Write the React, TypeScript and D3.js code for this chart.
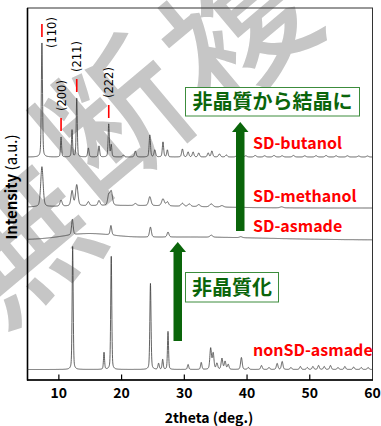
import React from 'react';
import * as d3 from 'd3';

const W = 381;
const H = 426;

// x-axis
const xDomain = [5, 60];
const xTickValues = [10, 20, 30, 40, 50, 60];
const xInnerTicks = [10, 20, 30, 40, 50];

// vertical offsets of each pattern (a.u.)
const seriesNames = ['nonSD-asmade', 'SD-asmade', 'SD-methanol', 'SD-butanol'];
const seriesOffsets = [10.5, 140, 172, 223];

// SD-butanol peaks
const butanolPos = [7.3, 10.35, 12.1, 12.85, 14.7, 16.4, 17.95, 18.35, 20.3, 22.2, 24.5, 25.3, 26.6, 27.3, 29.7, 30.6, 31.4, 32.3, 33.8, 34.4, 35.6, 36.7, 38.4, 39.8, 41.3, 42.8, 44.3, 45.6, 47.4, 49.2, 51.0, 52.6, 54.2, 56.0, 57.8, 59.2];
const butanolHeight = [114, 20, 27, 59, 9, 11, 33, 12, 2, 6, 22, 7, 15, 7, 8, 5, 5, 4, 4, 6, 3, 2, 1.5, 1.2, 1.5, 1.2, 1.5, 1.2, 1.5, 1.2, 1.3, 1.5, 1.2, 1.2, 1.0, 1.0];
const butanolFwhm = [0.22, 0.2, 0.2, 0.2, 0.25, 0.25, 0.22, 0.22, 0.3, 0.3, 0.25, 0.3, 0.25, 0.25, 0.3, 0.3, 0.3, 0.3, 0.3, 0.3, 0.35, 0.35, 0.4, 0.4, 0.4, 0.4, 0.4, 0.4, 0.4, 0.4, 0.4, 0.4, 0.4, 0.4, 0.4, 0.4];

// SD-methanol peaks
const methanolPos = [7.3, 10.35, 12.1, 12.85, 14.7, 16.4, 17.95, 18.35, 22.2, 24.5, 26.6, 27.3, 29.7, 30.8, 32.3, 34.3, 36.0, 39.0, 45.5];
const methanolHeight = [40, 6, 15, 21, 4, 5, 10, 14, 2, 9, 7, 4, 3, 2.5, 2, 3, 1.5, 1, 1];
const methanolFwhm = [0.45, 0.4, 0.4, 0.45, 0.4, 0.4, 0.4, 0.45, 0.5, 0.45, 0.5, 0.45, 0.5, 0.5, 0.5, 0.6, 0.6, 0.6, 0.6];
const methanolHaloPos = [20];
const methanolHaloHeight = [2.5];
const methanolHaloFwhm = [26];

// SD-asmade peaks
const asmadePos = [12.15, 18.3, 24.6, 27.4, 34.3, 39.0];
const asmadeHeight = [15.5, 9.5, 10, 5, 2, 1];
const asmadeFwhm = [0.3, 0.3, 0.35, 0.35, 0.5, 0.5];
const asmadeHaloPos = [14.5, 30];
const asmadeHaloHeight = [5, 3];
const asmadeHaloFwhm = [9, 30];

// nonSD-asmade peaks
const nonSDPos = [12.2, 17.2, 18.35, 24.6, 25.9, 26.55, 27.4, 30.6, 32.7, 34.2, 34.6, 35.2, 36.0, 36.5, 37.0, 39.1, 40.2, 42.3, 43.5, 44.8, 45.6, 47.0, 48.5, 49.6, 50.5, 51.4, 52.3, 53.3, 54.5, 55.6, 57.0, 58.2, 59.3];
const nonSDHeight = [123, 17, 114, 86, 6, 10, 38, 5, 7, 21, 16, 6, 11, 8, 5, 12, 2, 4, 2, 6, 8, 2, 3, 2, 3, 4, 3, 4, 2, 3, 2.5, 2, 2];
const nonSDFwhm = [0.2, 0.2, 0.2, 0.22, 0.25, 0.22, 0.2, 0.25, 0.25, 0.3, 0.3, 0.3, 0.3, 0.3, 0.3, 0.3, 0.3, 0.3, 0.3, 0.3, 0.3, 0.3, 0.3, 0.3, 0.3, 0.3, 0.3, 0.3, 0.3, 0.3, 0.3, 0.3, 0.3];

// Miller index markers on SD-butanol
const hklLabels = ['(110)', '(200)', '(211)', '(222)'];
const hklPos = [7.3, 10.35, 12.85, 17.95];
const hklHeight = [114, 20, 59, 33];

const pseudoVoigt = (x: number, p: number, h: number, w: number, eta: number) => {
  const d = (x - p) / (w / 2);
  const g = Math.exp(-Math.LN2 * d * d);
  const l = 1 / (1 + d * d);
  return h * (eta * l + (1 - eta) * g);
};

const buildPattern = (
  offset: number,
  pos: number[], hgt: number[], fw: number[],
  haloPos: number[] = [], haloH: number[] = [], haloW: number[] = []
) => {
  const xs = d3.range(xDomain[0], xDomain[1] + 0.0001, 0.02);
  return xs.map((x) => {
    let v = offset;
    for (let i = 0; i < pos.length; i++) {
      if (Math.abs(x - pos[i]) < 6) v += pseudoVoigt(x, pos[i], hgt[i], fw[i], 0.35);
    }
    for (let i = 0; i < haloPos.length; i++) v += pseudoVoigt(x, haloPos[i], haloH[i], haloW[i], 0);
    return [x, v] as [number, number];
  });
};

export default function App() {
  const x = d3.scaleLinear().domain(xDomain).range([27.5, 372.5]);
  const y = d3.scaleLinear().domain([0, 372]).range([380, 8]);
  const line = d3.line<[number, number]>().x((d) => x(d[0])).y((d) => y(d[1]));

  const patterns = [
    buildPattern(seriesOffsets[0], nonSDPos, nonSDHeight, nonSDFwhm),
    buildPattern(seriesOffsets[1], asmadePos, asmadeHeight, asmadeFwhm, asmadeHaloPos, asmadeHaloHeight, asmadeHaloFwhm),
    buildPattern(seriesOffsets[2], methanolPos, methanolHeight, methanolFwhm, methanolHaloPos, methanolHaloHeight, methanolHaloFwhm),
    buildPattern(seriesOffsets[3], butanolPos, butanolHeight, butanolFwhm),
  ];

  const jp = '"Noto Sans CJK JP", "Noto Sans", sans-serif';
  const green = '#0a650a';
  const labelY = [356, 232, 202, 149];

  const watermark = [
    { ch: '無', cx: 14, cy: 236 },
    { ch: '断', cx: 108, cy: 112 },
    { ch: '複', cx: 232, cy: 22 },
  ];

  const arrow = (cx: number, yTop: number, yBot: number, key: string) => (
    <g key={key}>
      <rect x={cx - 4} y={yTop + 9} width={8.5} height={yBot - yTop - 9} fill={green} />
      <path d={`M${cx - 8},${yTop + 10} L${cx + 0.25},${yTop} L${cx + 8.5},${yTop + 10} Z`} fill={green} />
    </g>
  );

  return (
    <svg width={W} height={H} style={{ position: 'absolute', left: 0, top: 0, display: 'block', background: '#fff' }}>
      {/* watermark */}
      <g opacity={0.95}>
        {watermark.map((w) => (
          <text key={w.ch} x={w.cx} y={w.cy} transform={`rotate(-40, ${w.cx}, ${w.cy})`}
            textAnchor="middle" dominantBaseline="central" fontSize={145} fontWeight={500}
            fontFamily={jp} fill="#c3c3c3">{w.ch}</text>
        ))}
      </g>

      {/* frame */}
      <rect x={27.5} y={8} width={345} height={372} fill="none" stroke="#333" strokeWidth={1} />
      <line x1={27.5} x2={27.5} y1={8} y2={380.5} stroke="#000" strokeWidth={1.6} />
      <line x1={27} x2={373} y1={380} y2={380} stroke="#000" strokeWidth={1.6} />
      {xInnerTicks.map((t) => (
        <line key={t} x1={x(t)} x2={x(t)} y1={380} y2={374.5} stroke="#000" strokeWidth={1.2} />
      ))}
      {xTickValues.map((t) => (
        <text key={t} x={x(t)} y={398} textAnchor="middle" fontSize={14} fontWeight={700} fontFamily={jp} fill="#000">{t}</text>
      ))}
      <text x={209} y={423} textAnchor="middle" fontSize={14} fontWeight={700} fontFamily={jp} fill="#000">2theta (deg.)</text>
      <text transform="translate(17,187) rotate(-90)" textAnchor="middle" fontSize={15} fontFamily={jp} fill="#000">
        <tspan fontWeight={700}>Intensity</tspan><tspan> (a.u.)</tspan>
      </text>

      {/* patterns */}
      {patterns.map((p, i) => (
        <path key={seriesNames[i]} d={line(p) || ''} fill="none" stroke="#3a3a3a" strokeWidth={0.8} />
      ))}

      {/* hkl markers */}
      {hklLabels.map((lab, i) => {
        const px = x(hklPos[i]);
        const tip = y(seriesOffsets[3] + hklHeight[i]);
        const lx = i === 0 ? px + 10.5 : px + 0.5;
        const ly = i === 0 ? tip + 5 : tip - 26;
        return (
          <g key={lab}>
            <line x1={px} x2={px} y1={tip - 6} y2={tip - 19} stroke="#ff0000" strokeWidth={1.6} />
            <text transform={`translate(${lx + 4},${ly}) rotate(-90)`} fontSize={11.5} fontFamily='"DejaVu Sans", sans-serif' fill="#000">{lab}</text>
          </g>
        );
      })}

      {/* series labels */}
      {seriesNames.map((n, i) => (
        <text key={n} x={x(40.95)} y={labelY[i]} fontSize={16} fontWeight={700} fontFamily={jp} fill="#ff0000">{n}</text>
      ))}

      {/* arrows */}
      {arrow(240, 122, 231, 'a1')}
      {arrow(177.5, 242, 341, 'a2')}

      {/* green boxes */}
      <rect x={185.5} y={87.5} width={174} height={28.5} fill="#fff" stroke="#3c8c3c" strokeWidth={1} />
      <text x={272.5} y={109} textAnchor="middle" fontSize={20} fontWeight={700} fontFamily={jp} fill={green}>非晶質から結晶に</text>
      <rect x={185.5} y={272.5} width={93} height={29.5} fill="#fff" stroke="#3c8c3c" strokeWidth={1} />
      <text x={232} y={294.5} textAnchor="middle" fontSize={20} fontWeight={700} fontFamily={jp} fill={green}>非晶質化</text>
    </svg>
  );
}
